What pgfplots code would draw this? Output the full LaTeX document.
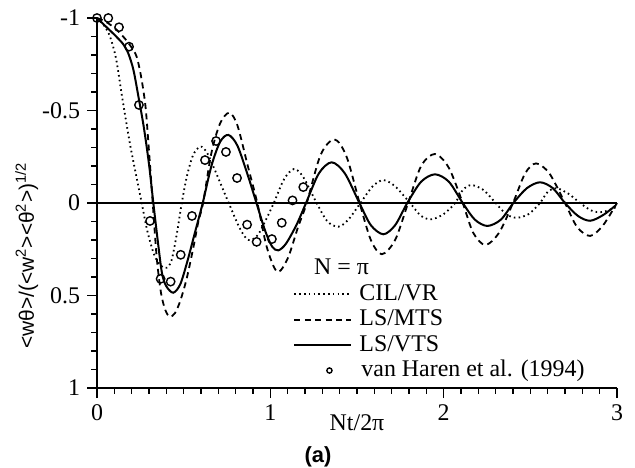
\documentclass[border=0pt]{standalone}
\usepackage{fontspec}
\setmainfont{Liberation Serif}
\newfontfamily\labelsans{Liberation Sans}
\usepackage{pgfplots}
\pgfplotsset{compat=1.18}
\pgfplotsset{circle legend/.style={legend image code/.code={\path[draw=none,fill=none] (0bp,-1bp) rectangle (28.5bp,1bp);
    \draw[##1, mark size=1.3bp] plot coordinates {(17.5bp,0bp)};}}}

\begin{document}
\begin{tikzpicture}
\begin{axis}[
  scale only axis, width=260bp, height=185bp,
  xmin=0, xmax=3, ymin=-1, ymax=1, y dir=reverse,
  axis x line*=bottom, axis y line*=left,
  axis line style={-, line width=0.75bp},
  xtick={0,1,2,3}, xticklabels={0,1,2,3},
  ytick={-1,-0.5,0,0.5,1}, yticklabels={-1,-0.5,0,0.5,1},
  tick align=outside, major tick length=5bp,
  every tick/.append style={black, line width=0.8bp},
  tick label style={font=\fontsize{12}{14}\selectfont},
  clip=false,
  xlabel={Nt/2π},
  xlabel style={at={(axis description cs:0.5,-0.095)}, anchor=center, font=\fontsize{12}{14}\selectfont},
  legend style={at={(axis description cs:0.377,0.284)}, anchor=north west,
    draw=none, fill=none, inner sep=0pt, row sep=1.7bp, column sep=3.5bp,
    font=\fontsize{12}{14}\selectfont,
    nodes={inner sep=0pt, text height=8.5bp, text depth=2.5bp}},
  legend cell align=left,
  legend image code/.code={\draw[#1] (0bp,0bp) -- (28.5bp,0bp);},
]
% zero line
\addplot[black, line width=0.7bp, forget plot] coordinates {(0,0) (3,0)};

% CIL/VR
\addplot[black, line width=0.9bp, dash pattern=on 0.8bp off 1.6bp, smooth, tension=0.5] coordinates {
(0,-1) (0.04,-0.96) (0.075,-0.9) (0.11,-0.78) (0.142,-0.59) (0.17,-0.43) (0.194,-0.30)
(0.23,-0.13) (0.258,0) (0.29,0.15) (0.33,0.28) (0.37,0.34) (0.402,0.35) (0.43,0.31)
(0.46,0.17) (0.489,0) (0.52,-0.15) (0.555,-0.26) (0.595,-0.305) (0.63,-0.28) (0.67,-0.2)
(0.715,-0.1) (0.76,0) (0.82,0.13) (0.86,0.19) (0.89,0.2) (0.93,0.17) (0.975,0.09)
(1.02,0) (1.08,-0.13) (1.137,-0.184) (1.19,-0.14) (1.267,0) (1.33,0.1) (1.393,0.128)
(1.45,0.09) (1.52,0) (1.59,-0.09) (1.652,-0.124) (1.72,-0.09) (1.806,0) (1.87,0.07)
(1.93,0.088) (2.0,0.06) (2.066,0) (2.11,-0.07) (2.16,-0.097) (2.23,-0.07) (2.30,0)
(2.36,0.06) (2.42,0.08) (2.49,0.06) (2.556,0) (2.6,-0.06) (2.652,-0.08) (2.72,-0.05)
(2.787,0) (2.85,0.04) (2.9,0.05) (2.95,0.04) (3.0,0.02)
};
\addlegendentry{CIL/VR}

% LS/MTS
\addplot[black, line width=0.9bp, dash pattern=on 3bp off 2.2bp, smooth, tension=0.5] coordinates {
(0,-1) (0.05,-0.98) (0.104,-0.944) (0.16,-0.89) (0.20,-0.84) (0.229,-0.79) (0.255,-0.68)
(0.28,-0.52) (0.30,-0.28) (0.32,-0.02) (0.345,0.30) (0.37,0.49) (0.395,0.58) (0.42,0.615)
(0.45,0.595) (0.48,0.53) (0.517,0.41) (0.556,0.24) (0.585,0.1) (0.612,0) (0.66,-0.27)
(0.71,-0.43) (0.763,-0.488) (0.81,-0.42) (0.87,-0.2) (0.925,0) (0.98,0.24) (1.04,0.372)
(1.1,0.3) (1.16,0.13) (1.21,0) (1.29,-0.26) (1.37,-0.344) (1.44,-0.25) (1.515,0)
(1.58,0.2) (1.643,0.277) (1.72,0.2) (1.795,0) (1.87,-0.2) (1.95,-0.265) (2.03,-0.19)
(2.11,0) (2.17,0.16) (2.24,0.227) (2.32,0.16) (2.40,0) (2.47,-0.16) (2.533,-0.214)
(2.61,-0.16) (2.70,0) (2.77,0.13) (2.845,0.178) (2.92,0.12) (3.0,0.0)
};
\addlegendentry{LS/MTS}

% LS/VTS
\addplot[black, line width=1bp, smooth, tension=0.5] coordinates {
(0,-1) (0.05,-0.955) (0.10,-0.91) (0.15,-0.86) (0.18,-0.81) (0.21,-0.72) (0.24,-0.57)
(0.27,-0.41) (0.30,-0.21) (0.325,0) (0.35,0.2) (0.375,0.38) (0.40,0.45) (0.44,0.485)
(0.48,0.44) (0.52,0.32) (0.565,0.16) (0.61,0) (0.66,-0.2) (0.71,-0.33) (0.758,-0.368)
(0.81,-0.31) (0.87,-0.15) (0.92,0) (0.97,0.15) (1.01,0.235) (1.046,0.256) (1.09,0.22)
(1.15,0.12) (1.206,0) (1.28,-0.16) (1.354,-0.22) (1.43,-0.16) (1.514,0) (1.58,0.12)
(1.652,0.169) (1.72,0.12) (1.79,0) (1.87,-0.115) (1.95,-0.155) (2.03,-0.115) (2.11,0)
(2.18,0.09) (2.252,0.124) (2.33,0.09) (2.402,0) (2.48,-0.08) (2.556,-0.112) (2.63,-0.08)
(2.70,0) (2.775,0.07) (2.845,0.096) (2.92,0.065) (2.99,0.015)
};
\addlegendentry{LS/VTS}

% van Haren et al. (1994)
\addplot[black, only marks, mark=o, mark size=2.1bp, mark options={line width=0.7bp},
  circle legend] coordinates {
(0,-1) (0.065,-1) (0.127,-0.95) (0.185,-0.845) (0.242,-0.53) (0.306,0.097) (0.367,0.41)
(0.425,0.425) (0.483,0.28) (0.548,0.07) (0.623,-0.232) (0.687,-0.335) (0.744,-0.276)
(0.808,-0.135) (0.866,0.117) (0.921,0.21) (1.009,0.195) (1.066,0.107) (1.128,-0.014)
(1.19,-0.086)
};
\addlegendentry{\hspace{1bp}van Haren et al. (1994)}

% short ticks every 0.1 on both axes
\pgfplotsinvokeforeach{0.1,0.2,0.3,0.4,0.5,0.6,0.7,0.8,0.9,1.1,1.2,1.3,1.4,1.5,1.6,1.7,1.8,1.9,2.1,2.2,2.3,2.4,2.5,2.6,2.7,2.8,2.9}{
  \draw[black, line width=0.8bp] (axis cs:#1,1) -- ++(0bp,-3.2bp);
}
\pgfplotsinvokeforeach{-0.9,-0.8,-0.7,-0.6,-0.4,-0.3,-0.2,-0.1,0.1,0.2,0.3,0.4,0.6,0.7,0.8,0.9}{
  \draw[black, line width=0.8bp] (axis cs:0,#1) -- ++(-3.2bp,0bp);
}

\node[anchor=west, font=\fontsize{12}{14}\selectfont] at (axis description cs:0.404,0.327) {N = π};
\node[font=\labelsans\bfseries\fontsize{11}{13}\selectfont] at (axis description cs:0.425,-0.185) {(a)};
\node[rotate=90, anchor=center, font=\labelsans\fontsize{10.5}{13}\selectfont] at (axis description cs:-0.135,0.358)
  {<wθ>/(<w\textsuperscript{2}><θ\textsuperscript{2}>)\textsuperscript{1/2}};
\end{axis}
\pgfresetboundingbox
\path[use as bounding box] (-48.5bp,-40bp) rectangle (269bp,194bp);
\end{tikzpicture}
\end{document}
